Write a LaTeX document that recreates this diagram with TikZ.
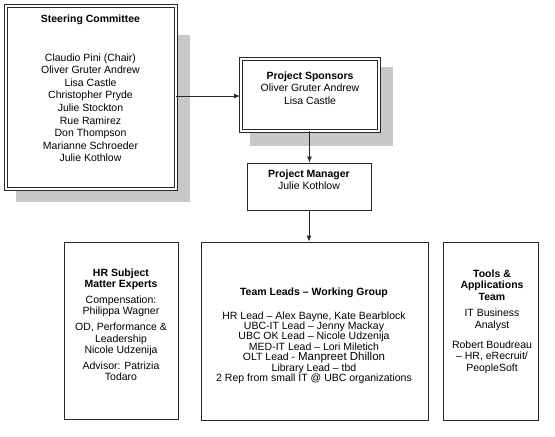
\documentclass[tikz,border=0pt]{standalone}
\usepackage{fontspec}
\setmainfont{Liberation Sans}
\usetikzlibrary{arrows.meta,calc,backgrounds}
\definecolor{shadowc}{RGB}{200,200,200}
\definecolor{linec}{RGB}{40,40,40}
\newcommand\mytightls{\lineskiplimit=-5pt\relax}
\begin{document}
\begin{tikzpicture}[x=1pt,y=-1pt,
  plainbox/.style={draw=linec,fill=white,line width=0.9pt,inner sep=0pt},
  dblbox/.style={draw=linec,fill=white,line width=1pt,double=white,double distance=2pt,inner sep=0pt},
  txt/.style={align=center,inner sep=0pt,anchor=north,text=black},
  f12/.style={font=\fontsize{10.5}{12.6}\selectfont},
  arr/.style={draw=linec,line width=0.9pt,-{Latex[length=6pt,width=5pt]}}]
\useasboundingbox (0,0) rectangle (555,437);
% boxes
\node[dblbox,minimum width=170pt,minimum height=183pt] (steer) at (90.5,97) {};
\node[dblbox,minimum width=138pt,minimum height=72pt] (spons) at (309.5,94.5) {};
\node[plainbox,minimum width=124pt,minimum height=47pt] (pm) at (309,186.5) {};
\node[plainbox,minimum width=114pt,minimum height=177pt] (hr) at (121,330.5) {};
\node[plainbox,minimum width=227pt,minimum height=178pt] (team) at (314.5,331) {};
\node[plainbox,minimum width=95pt,minimum height=178pt] (tools) at (490.5,331) {};
% shadows
\begin{scope}[on background layer]
\fill[shadowc] ($(steer.north west)+(10.5,29.5)$) rectangle ($(steer.south east)+(13.5,12.5)$);
\fill[shadowc] ($(spons.north west)+(9.5,8.5)$) rectangle ($(spons.south east)+(13.5,14.5)$);
\end{scope}
% texts
\node[txt,font=\fontsize{10.5}{12.6}\selectfont\bfseries] (steertitle) at (90.5,14.2) {Steering Committee};
\node[txt,f12] (steernames) at (90.5,53.2) {Claudio Pini (Chair)\\Oliver Gruter Andrew\\Lisa Castle\\Christopher Pryde\\Julie Stockton\\Rue Ramirez\\Don Thompson\\Marianne Schroeder\\Julie Kothlow};
\node[txt,font=\fontsize{10.5}{12.5}\selectfont] (sponstext) at (310,71.2) {\textbf{Project Sponsors}\\Oliver Gruter Andrew\\Lisa Castle};
\node[txt,font=\fontsize{10.5}{12}\selectfont] (pmtext) at (309,169.2) {\textbf{Project Manager}\\Julie Kothlow};
\node[txt,font=\fontsize{10.5}{11.2}\selectfont] (hrtext) at (121,268.2) {\textbf{HR Subject}\\\textbf{Matter Experts}\\[5pt]Compensation:\\Philippa Wagner\\[5pt]OD, Performance \&\\Leadership\\Nicole Udzenija\\[5pt]Advisor: Patrizia\\Todaro};
\node[txt,font=\fontsize{10.5}{12}\selectfont\bfseries] (teamtitle) at (314,287.2) {Team Leads – Working Group};
\node[txt,font=\fontsize{10.5}{10.4}\selectfont\mytightls] (teamlist) at (314,311.2) {HR Lead – Alex Bayne, Kate Bearblock\\UBC-IT Lead – Jenny Mackay\\UBC OK Lead – Nicole Udzenija\\MED-IT Lead – Lori Miletich\\OLT Lead - {\fontsize{11.5}{10.4}\selectfont Manpreet Dhillon}\\Library Lead – tbd\\2 Rep from small IT @ UBC organizations};
\node[txt,font=\fontsize{10.5}{11.8}\selectfont] (toolstext) at (492,269.2) {\textbf{Tools \&}\\\textbf{Applications}\\\textbf{Team}\\[4pt]IT Business\\Analyst\\[8pt]Robert Boudreau\\– HR, eRecruit/\\PeopleSoft};
% connectors
\draw[arr] (steer.east |- 0,96) -- (spons.west |- 0,96);
\draw[arr] (spons.south) -- (spons.south |- pm.north);
\draw[arr] (pm.south) -- (pm.south |- team.north);
\end{tikzpicture}
\end{document}
